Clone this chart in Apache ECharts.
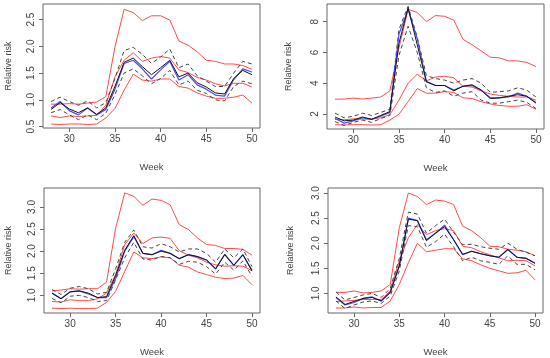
<!DOCTYPE html>
<html><head><meta charset="utf-8">
<script src="https://cdn.jsdelivr.net/npm/echarts@6/dist/echarts.min.js"></script>
<style>html,body{margin:0;padding:0;background:#fff}#c{width:550px;height:358px}</style>
</head><body><div id="c"></div>
<script>
const weeks = [28,29,30,31,32,33,34,35,36,37,38,39,40,41,42,43,44,45,46,47,48,49,50];
const xTicks = [30,35,40,45,50];

// Panel 1 (top-left)
const p1RedUpper = [0.92,0.92,0.93,0.92,0.94,0.96,1.06,1.99,2.69,2.63,2.48,2.57,2.57,2.49,2.10,2.02,1.90,1.74,1.72,1.67,1.67,1.64,1.57];
const p1RedMid   = [0.70,0.67,0.70,0.69,0.70,0.71,0.90,1.43,1.74,1.88,1.72,1.78,1.81,1.78,1.56,1.51,1.42,1.37,1.30,1.26,1.31,1.31,1.24];
const p1RedLower = [0.55,0.54,0.55,0.55,0.54,0.55,0.66,0.84,1.18,1.48,1.37,1.35,1.39,1.39,1.25,1.22,1.13,1.07,1.03,1.03,1.05,1.09,0.94];
const p1DashUp   = [0.97,1.05,0.97,0.90,0.98,0.85,0.95,1.40,1.92,1.98,1.85,1.68,1.80,1.95,1.60,1.67,1.45,1.35,1.25,1.25,1.50,1.72,1.67];
const p1DashLow  = [0.76,0.82,0.72,0.63,0.72,0.63,0.75,1.10,1.50,1.58,1.45,1.30,1.40,1.55,1.28,1.35,1.18,1.12,1.00,0.98,1.25,1.35,1.30];
const p1Black    = [0.82,0.95,0.83,0.76,0.85,0.73,0.85,1.25,1.70,1.78,1.62,1.47,1.60,1.74,1.43,1.50,1.32,1.24,1.13,1.11,1.40,1.55,1.47];
const p1Blue     = [0.85,0.97,0.80,0.72,0.85,0.72,0.82,1.20,1.68,1.74,1.58,1.39,1.56,1.72,1.37,1.47,1.28,1.20,1.09,1.07,1.38,1.58,1.52];
const p1YTicks = [0.5,1.0,1.5,2.0,2.5];

// Panel 2 (top-right)
const p2RedUpper = [2.96,2.97,3.03,2.97,3.03,3.10,3.50,6.30,8.80,8.60,8.00,8.40,8.35,8.10,6.86,6.50,6.10,5.69,5.65,5.45,5.45,5.35,5.08];
const p2RedMid   = [1.65,1.62,1.68,1.66,1.66,1.75,1.95,2.90,4.00,4.58,4.15,4.40,4.45,4.35,3.80,3.75,3.50,3.30,3.20,3.15,3.10,3.10,2.90];
const p2RedLower = [1.30,1.28,1.30,1.30,1.28,1.30,1.60,1.98,2.80,3.65,3.35,3.35,3.45,3.40,3.05,3.00,2.80,2.65,2.55,2.50,2.50,2.60,2.30];
const p2DashUp   = [2.05,1.75,1.85,2.05,1.90,2.10,2.30,7.50,9.00,7.00,4.50,4.30,4.20,4.00,4.20,4.30,4.00,3.40,3.45,3.50,3.70,3.55,3.10];
const p2DashLow  = [1.50,1.25,1.45,1.60,1.45,1.70,1.90,5.80,7.70,6.00,3.70,3.40,3.50,3.15,3.35,3.45,2.90,2.70,2.70,2.80,2.90,2.75,2.35];
const p2Black    = [1.80,1.55,1.60,1.80,1.65,1.90,2.15,6.60,8.90,6.50,4.10,3.85,3.85,3.50,3.80,3.90,3.55,3.00,3.05,3.15,3.25,3.15,2.70];
const p2Blue     = [1.70,1.40,1.55,1.75,1.65,1.85,2.10,7.20,8.80,6.90,4.10,3.85,3.85,3.55,3.80,3.85,3.55,3.05,3.05,3.10,3.35,3.15,2.75];
const p2YTicks = [2,4,6,8];

// Panel 3 (bottom-left)
const p3RedUpper = [1.10,1.12,1.15,1.14,1.15,1.15,1.30,2.52,3.32,3.24,3.04,3.18,3.15,3.05,2.60,2.49,2.30,2.15,2.13,2.06,2.06,2.04,1.91];
const p3RedMid   = [0.86,0.85,0.90,0.88,0.88,0.92,1.05,1.47,2.15,2.41,2.17,2.30,2.32,2.29,2.01,1.91,1.85,1.75,1.69,1.66,1.67,1.66,1.56];
const p3RedLower = [0.71,0.70,0.71,0.70,0.70,0.71,0.84,1.09,1.54,1.98,1.85,1.83,1.87,1.85,1.68,1.64,1.53,1.47,1.41,1.38,1.39,1.45,1.24];
const p3DashUp   = [1.13,1.02,1.16,1.20,1.15,1.03,1.07,1.60,2.20,2.48,2.10,2.07,2.17,2.10,1.98,2.05,2.05,1.95,1.75,2.05,1.85,2.05,1.65];
const p3DashLow  = [0.93,0.83,0.98,1.00,0.95,0.86,0.88,1.35,1.85,2.20,1.82,1.80,1.88,1.85,1.70,1.77,1.75,1.65,1.48,1.75,1.57,1.78,1.43];
const p3Black    = [1.05,0.92,1.08,1.10,1.05,0.95,0.97,1.45,2.02,2.35,1.95,1.92,2.00,1.95,1.83,1.92,1.88,1.80,1.60,1.92,1.68,1.92,1.55];
const p3Blue     = [1.05,0.93,1.08,1.10,1.03,0.95,0.95,1.38,2.00,2.33,1.95,1.92,2.02,1.95,1.83,1.92,1.87,1.80,1.60,1.93,1.68,1.92,1.57];
const p3YTicks = [1.0,1.5,2.0,2.5,3.0];

// Panel 4 (bottom-right)
const p4RedUpper = [1.02,1.02,1.05,1.01,1.02,1.05,1.18,2.31,3.00,2.93,2.77,2.86,2.84,2.77,2.34,2.25,2.11,1.94,1.93,1.88,1.86,1.83,1.75];
const p4RedMid   = [0.84,0.85,0.86,0.88,0.88,0.88,1.05,1.65,2.11,2.37,2.17,2.25,2.29,2.25,1.94,1.91,1.83,1.77,1.71,1.65,1.66,1.65,1.55];
const p4RedLower = [0.71,0.71,0.73,0.71,0.72,0.72,0.85,1.18,1.61,2.00,1.83,1.86,1.89,1.89,1.69,1.65,1.57,1.50,1.45,1.40,1.41,1.46,1.27];
const p4DashUp   = [1.03,0.87,0.92,0.97,1.00,0.92,1.10,1.70,2.62,2.58,2.20,2.35,2.48,2.22,1.97,1.98,1.93,1.90,1.88,2.00,1.88,1.82,1.75];
const p4DashLow  = [0.85,0.70,0.77,0.83,0.85,0.80,0.95,1.45,2.35,2.33,1.92,2.03,2.18,1.93,1.65,1.72,1.65,1.62,1.58,1.75,1.58,1.58,1.47];
const p4Black    = [0.93,0.78,0.84,0.90,0.92,0.85,1.02,1.55,2.48,2.45,2.05,2.20,2.33,2.07,1.78,1.84,1.79,1.75,1.72,1.87,1.72,1.70,1.60];
const p4Blue     = [0.92,0.77,0.82,0.90,0.93,0.85,1.02,1.55,2.50,2.45,2.07,2.20,2.36,2.07,1.77,1.84,1.79,1.75,1.72,1.88,1.72,1.70,1.60];
const p4YTicks = [1.0,1.5,2.0,2.5,3.0];

const panels = [
  {grid:{left:43,top:4,width:217,height:124}, ymin:0.475, ymax:2.79, yTicks:p1YTicks, yGap:30, xGap:34,
   s:[p1RedUpper,p1RedMid,p1RedLower,p1DashUp,p1DashLow,p1Blue,p1Black]},
  {grid:{left:327,top:4,width:217,height:125}, ymin:1.02, ymax:9.15, yTicks:p2YTicks, yGap:34, xGap:34,
   s:[p2RedUpper,p2RedMid,p2RedLower,p2DashUp,p2DashLow,p2Blue,p2Black]},
  {grid:{left:44,top:188,width:216,height:125}, ymin:0.6, ymax:3.43, yTicks:p3YTicks, yGap:31, xGap:34,
   s:[p3RedUpper,p3RedMid,p3RedLower,p3DashUp,p3DashLow,p3Blue,p3Black]},
  {grid:{left:328,top:188,width:215,height:126}, ymin:0.61, ymax:3.1, yTicks:p4YTicks, yGap:33, xGap:34,
   s:[p4RedUpper,p4RedMid,p4RedLower,p4DashUp,p4DashLow,p4Blue,p4Black]}
];

const FONT = 'Liberation Sans, Arial, sans-serif';
const TXT = '#444';
const styles = [
  {color:'#ff4a4a', type:'solid', width:1},
  {color:'#ff4a4a', type:'solid', width:1},
  {color:'#ff4a4a', type:'solid', width:1},
  {color:'#444444', type:[4,3], width:1},
  {color:'#444444', type:[4,3], width:1},
  {color:'#4a4aff', type:'solid', width:1.2},
  {color:'#111111', type:'solid', width:1}
];

const grid=[], xAxis=[], yAxis=[], series=[];
panels.forEach((p,i)=>{
  grid.push(Object.assign({show:true, borderColor:'#666', borderWidth:1, backgroundColor:'transparent', containLabel:false}, p.grid));
  xAxis.push({type:'value', gridIndex:i, min:27.12, max:50.88,
    name:'Week', nameLocation:'middle', nameGap:p.xGap,
    nameTextStyle:{fontFamily:FONT, fontSize:9.5, color:TXT},
    axisLine:{show:false}, splitLine:{show:false},
    axisTick:{show:true, inside:false, length:4, customValues:xTicks, lineStyle:{color:'#666'}},
    axisLabel:{show:true, margin:6, customValues:xTicks, fontFamily:FONT, fontSize:10, color:TXT}
  });
  yAxis.push({type:'value', gridIndex:i, min:p.ymin, max:p.ymax,
    name:'Relative risk', nameLocation:'middle', nameGap:p.yGap, nameRotate:90,
    nameTextStyle:{fontFamily:FONT, fontSize:9, color:TXT},
    axisLine:{show:false}, splitLine:{show:false},
    axisTick:{show:true, inside:false, length:4, customValues:p.yTicks, lineStyle:{color:'#666'}},
    axisLabel:{show:true, margin:7, rotate:90, customValues:p.yTicks, fontFamily:FONT, fontSize:10, color:TXT,
      formatter:v=> (p.yTicks===p2YTicks ? String(v) : v.toFixed(1))}
  });
  p.s.forEach((arr,k)=>{
    series.push({type:'line', xAxisIndex:i, yAxisIndex:i, data:weeks.map((w,j)=>[w,arr[j]]),
      showSymbol:false, symbol:'none', silent:true, animation:false, z:2+k,
      lineStyle:styles[k]});
  });
});

const chart = echarts.init(document.getElementById('c'), null, {renderer:'canvas'});
chart.setOption({animation:false, grid, xAxis, yAxis, series});
</script></body></html>
